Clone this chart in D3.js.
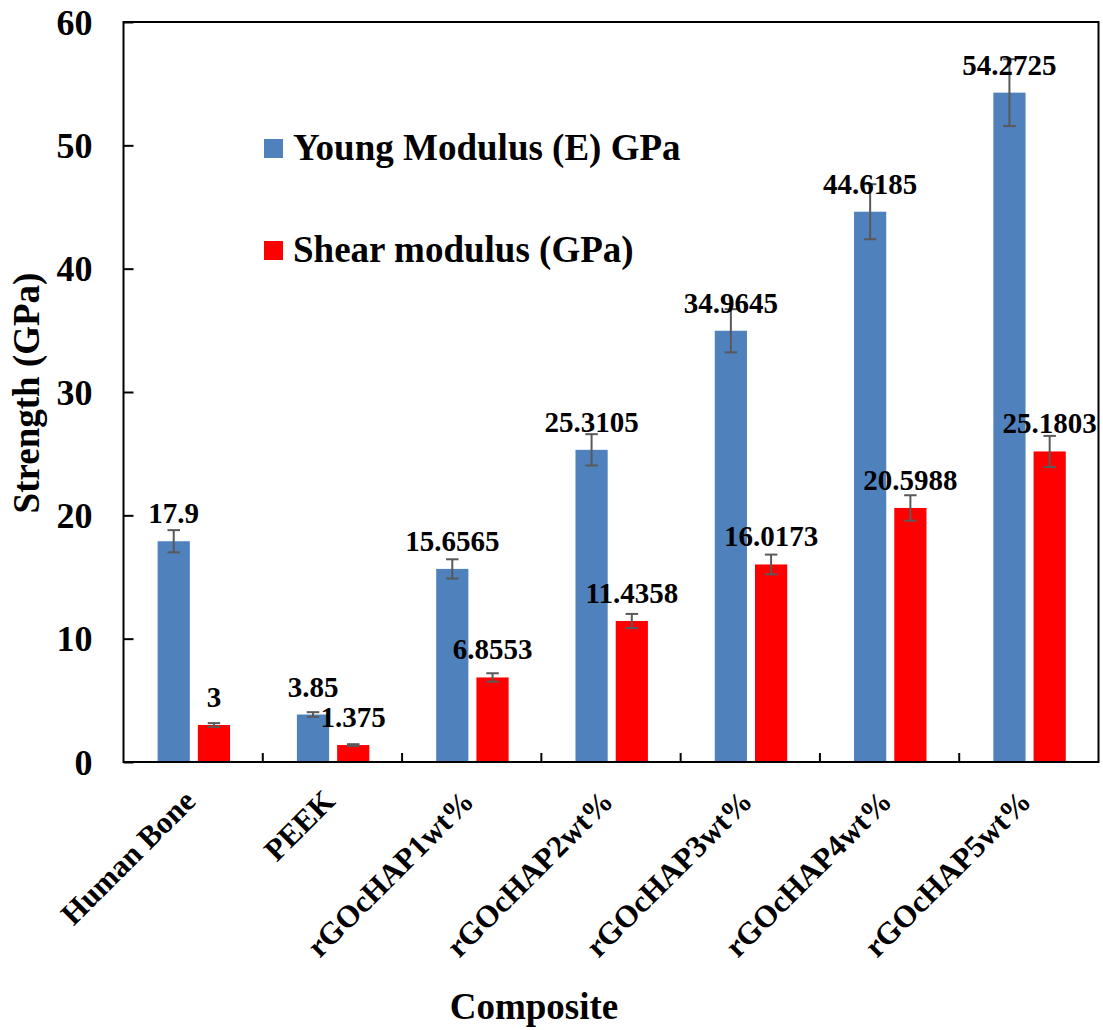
<!DOCTYPE html>
<html>
<head>
<meta charset="utf-8">
<script src="https://cdn.jsdelivr.net/npm/d3@7"></script>
<style>
  html, body { margin: 0; padding: 0; background: #fff; }
  svg { display: block; }
</style>
</head>
<body>
<svg id="chart" width="1103" height="1030"></svg>
<script>
// Composite materials and their moduli (GPa)
const categories = ["Human Bone", "PEEK", "rGOcHAP1wt%", "rGOcHAP2wt%", "rGOcHAP3wt%", "rGOcHAP4wt%", "rGOcHAP5wt%"];
const seriesNames = ["Young Modulus (E) GPa", "Shear modulus (GPa)"];
const youngValues = [17.9, 3.85, 15.6565, 25.3105, 34.9645, 44.6185, 54.2725];
const shearValues = [3, 1.375, 6.8553, 11.4358, 16.0173, 20.5988, 25.1803];
const youngErrors = [0.9, 0.19, 0.78, 1.27, 1.75, 2.23, 2.71];
const shearErrors = [0.15, 0.07, 0.34, 0.57, 0.8, 1.03, 1.26];
const yTicks = [0, 10, 20, 30, 40, 50, 60];
const seriesColors = ["#4F81BD", "#FF0000"];

const FONT = "Liberation Serif";
const svg = d3.select("#chart")
  .attr("font-family", FONT).attr("font-weight", "bold");
const plot = { left: 123.5, right: 1098.5, top: 22, bottom: 762 };

const y = d3.scaleLinear().domain([0, 60]).range([plot.bottom, plot.top]);
const x = d3.scaleBand().domain(categories).range([plot.left, plot.right]).padding(0);
const bw = x.bandwidth();
const xSub = d3.scaleBand().domain(seriesNames).range([0.245 * bw, 0.765 * bw]).paddingInner(0.2);

const data = seriesNames.map((name, si) => ({
  name,
  color: seriesColors[si],
  values: categories.map((c, i) => ({
    cat: c,
    v: si === 0 ? youngValues[i] : shearValues[i],
    e: si === 0 ? youngErrors[i] : shearErrors[i]
  }))
}));

// Bars
const groups = svg.append("g").selectAll("g.series").data(data).join("g").attr("class", "series");
groups.selectAll("rect").data(d => d.values.map(v => ({ ...v, name: d.name, color: d.color })))
  .join("rect")
  .attr("x", d => x(d.cat) + xSub(d.name))
  .attr("width", xSub.bandwidth())
  .attr("y", d => y(d.v))
  .attr("height", d => y(0) - y(d.v))
  .attr("fill", d => d.color);

// Error bars
const capW = 12.5;
const cx = d => x(d.cat) + xSub(d.name) + xSub.bandwidth() / 2;
const eb = groups.selectAll("g.err").data(d => d.values.map(v => ({ ...v, name: d.name })))
  .join("g").attr("class", "err")
  .attr("stroke", "#595959").attr("stroke-width", 2);
eb.append("line")
  .attr("x1", cx).attr("x2", cx)
  .attr("y1", d => y(d.v - d.e)).attr("y2", d => y(d.v + d.e));
[1, -1].forEach(s => {
  eb.append("line")
    .attr("x1", d => cx(d) - capW / 2)
    .attr("x2", d => cx(d) + capW / 2)
    .attr("y1", d => y(d.v + s * d.e)).attr("y2", d => y(d.v + s * d.e));
});

// Value labels above each bar
groups.selectAll("text.val").data(d => d.values.map(v => ({ ...v, name: d.name })))
  .join("text").attr("class", "val")
  .attr("x", cx)
  .attr("y", d => y(d.v) - 18)
  .attr("text-anchor", "middle")
  .attr("font-family", FONT).attr("font-weight", "bold")
  .attr("font-size", 29)
  .attr("fill", "#000")
  .text(d => String(d.v));

// Y axis (ticks inside)
const yAxis = d3.axisLeft(y).tickValues(yTicks).tickSize(-10).tickPadding(31);
const gy = svg.append("g").attr("transform", `translate(${plot.left},0)`).call(yAxis)
  .attr("font-family", FONT);
gy.select(".domain").remove();
gy.selectAll(".tick line").attr("stroke", "#000").attr("stroke-width", 2);
gy.selectAll(".tick text").attr("font-size", 36).attr("font-family", FONT)
  .attr("font-weight", "bold").attr("fill", "#000").attr("dy", "0.34em");

// X axis: ticks at category boundaries, pointing inward
const bounds = categories.slice(1).map(c => x(c));
svg.append("g").selectAll("line").data(bounds).join("line")
  .attr("x1", d => d).attr("x2", d => d)
  .attr("y1", plot.bottom).attr("y2", plot.bottom - 9)
  .attr("stroke", "#000").attr("stroke-width", 2);

// Category labels, rotated
svg.append("g").selectAll("text").data(categories).join("text")
  .attr("transform", d => `translate(${x(d) + bw / 2 + 4},${plot.bottom + 41}) rotate(-45)`)
  .attr("text-anchor", "end")
  .attr("font-family", FONT).attr("font-weight", "bold")
  .attr("font-size", 31)
  .attr("fill", "#000")
  .text(d => d);

// Plot frame
svg.append("rect")
  .attr("x", plot.left).attr("y", plot.top)
  .attr("width", plot.right - plot.left).attr("height", plot.bottom - plot.top)
  .attr("fill", "none").attr("stroke", "#000").attr("stroke-width", 2);

// Axis titles
svg.append("text")
  .attr("transform", `translate(39,393) rotate(-90)`)
  .attr("text-anchor", "middle")
  .attr("font-family", FONT).attr("font-weight", "bold")
  .attr("font-size", 37).attr("fill", "#000")
  .text("Strength (GPa)");
svg.append("text")
  .attr("x", 534).attr("y", 1019)
  .attr("text-anchor", "middle")
  .attr("font-family", FONT).attr("font-weight", "bold")
  .attr("font-size", 37).attr("fill", "#000")
  .text("Composite");

// Legend
const legend = svg.append("g").selectAll("g").data(data).join("g")
  .attr("transform", (d, i) => `translate(264,${160 + i * 102})`);
legend.append("rect").attr("x", 0).attr("y", -21).attr("width", 19).attr("height", 19).attr("fill", d => d.color);
legend.append("text").attr("x", 29).attr("y", 0)
  .attr("font-family", FONT).attr("font-weight", "bold")
  .attr("font-size", 37).attr("fill", "#000").text(d => d.name);
</script>
</body>
</html>
